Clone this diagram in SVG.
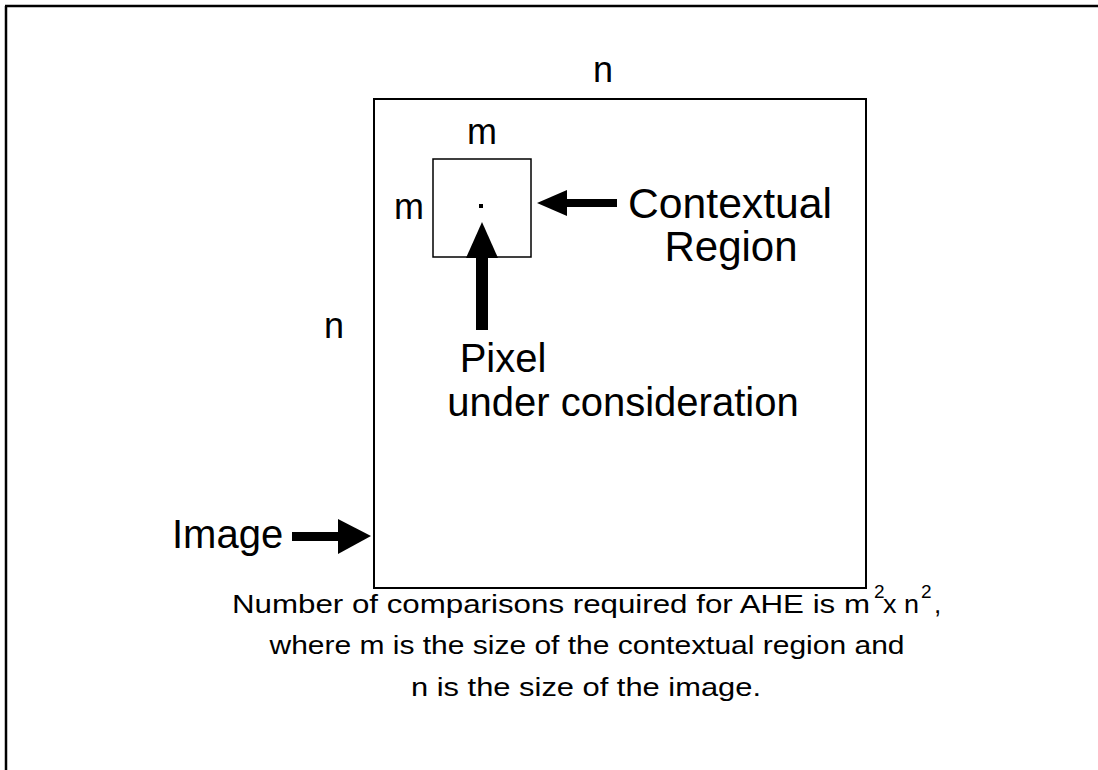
<svg xmlns="http://www.w3.org/2000/svg" width="1098" height="770" viewBox="0 0 1098 770">
  <style>
    .lbl { font-family: "Liberation Sans", Arial, sans-serif; fill: #000; }
    .big { font-size: 40px; }
    .ctx { font-size: 42px; }
    .mid { font-size: 36px; }
    .cap { font-size: 26px; }
    .sup { font-size: 19px; }
    .frame { stroke: #000; stroke-width: 2.5; fill: none; }
    .box { fill: #fff; stroke: #000; }
    .ink { fill: #000; }
  </style>

  <rect x="0" y="0" width="1098" height="770" fill="#fff"/>

  <!-- page frame (top and left rules) -->
  <g id="frame">
    <line class="frame" x1="5" y1="6" x2="1098" y2="6"/>
    <line class="frame" x1="6" y1="6" x2="6" y2="770"/>
  </g>

  <!-- the whole image, n x n -->
  <g id="image">
    <rect class="box" x="374" y="99" width="492" height="489" stroke-width="2"/>
    <text class="lbl mid" x="603" y="82" text-anchor="middle">n</text>
    <text class="lbl mid" x="334" y="338" text-anchor="middle">n</text>
  </g>

  <!-- contextual region, m x m -->
  <g id="contextual-region">
    <rect class="box" x="433" y="159" width="98" height="98" stroke-width="1.5"/>
    <text class="lbl mid" x="482" y="144" text-anchor="middle">m</text>
    <text class="lbl mid" x="409" y="219" text-anchor="middle">m</text>
  </g>

  <!-- pixel under consideration -->
  <g id="pixel">
    <rect class="ink" x="479" y="204" width="4" height="4"/>
  </g>

  <!-- pointer arrows -->
  <g id="connectors">
    <rect class="ink" x="476" y="255" width="12" height="75"/>
    <polygon class="ink" points="482,222 498,258 466,258"/>
    <rect class="ink" x="565" y="199" width="52" height="8"/>
    <polygon class="ink" points="537,203 567,190 567,216"/>
    <rect class="ink" x="292" y="532" width="48" height="9"/>
    <polygon class="ink" points="371,536 338,519 338,554"/>
  </g>

  <g id="label-contextual">
    <text class="lbl ctx" x="628" y="218" textLength="204" lengthAdjust="spacingAndGlyphs">Contextual</text>
    <text class="lbl ctx" x="731" y="261" text-anchor="middle">Region</text>
  </g>

  <g id="label-pixel">
    <text class="lbl big" x="503" y="372" text-anchor="middle">Pixel</text>
    <text class="lbl big" x="623" y="416" text-anchor="middle">under consideration</text>
  </g>

  <g id="label-image">
    <text class="lbl big" x="172" y="548">Image</text>
  </g>

  <!-- caption -->
  <g id="caption">
    <text class="lbl cap" x="232" y="613" textLength="638" lengthAdjust="spacingAndGlyphs">Number of comparisons required for AHE is m</text>
    <text class="lbl sup" x="874" y="598">2</text>
    <text class="lbl cap" x="883" y="613" textLength="36" lengthAdjust="spacingAndGlyphs">x n</text>
    <text class="lbl sup" x="921" y="598">2</text>
    <text class="lbl cap" x="934" y="613">,</text>
    <text class="lbl cap" x="587" y="654" text-anchor="middle" textLength="635" lengthAdjust="spacingAndGlyphs">where m is the size of the contextual region and</text>
    <text class="lbl cap" x="586" y="696" text-anchor="middle" textLength="350" lengthAdjust="spacingAndGlyphs">n is the size of the image.</text>
  </g>
</svg>
